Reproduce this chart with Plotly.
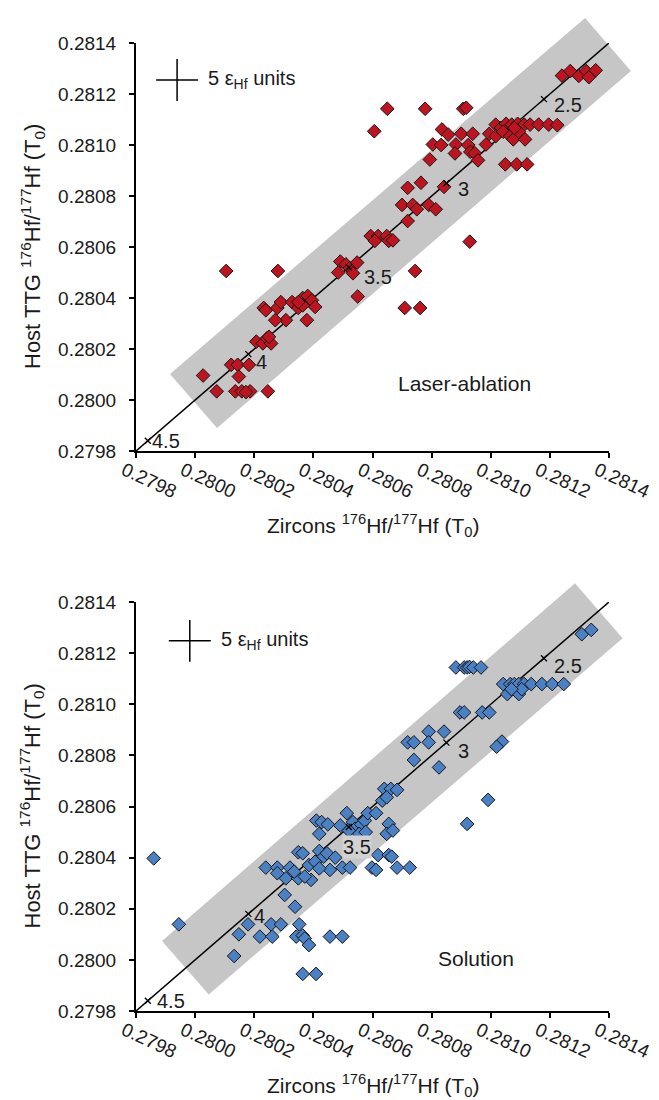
import plotly.graph_objects as go

# ---------------- data ----------------
# Laser-ablation: zircon 176Hf/177Hf (x) vs host TTG 176Hf/177Hf (y)
la_x = [0.281241, 0.281269, 0.281298, 0.281323, 0.281332, 0.281355, 0.280650, 0.280778, 0.280907, 0.280917,
        0.280606, 0.280835, 0.280856, 0.280900, 0.280939, 0.280804, 0.280832, 0.280882, 0.280879, 0.280924,
        0.280931, 0.280946, 0.280794, 0.280957, 0.280984, 0.280995, 0.281017, 0.281034, 0.281052, 0.281071,
        0.281091, 0.281113, 0.281133, 0.281162, 0.281196, 0.281225, 0.281017, 0.281042, 0.281066, 0.281076,
        0.281095, 0.281116, 0.281080, 0.281049, 0.281088, 0.281123, 0.280719, 0.280764, 0.280842, 0.280700,
        0.280736, 0.280750, 0.280790, 0.280814, 0.280719, 0.280594, 0.280619, 0.280648, 0.280608, 0.280655,
        0.280669, 0.280929, 0.280491, 0.280510, 0.280523, 0.280548, 0.280534, 0.280484, 0.280105, 0.280280,
        0.280744, 0.280550, 0.280709, 0.280761, 0.280232, 0.280239, 0.280278, 0.280290, 0.280328, 0.280307,
        0.280271, 0.280378, 0.280349, 0.280364, 0.280381, 0.280395, 0.280406, 0.280364, 0.280349, 0.280207,
        0.280229, 0.280243, 0.280257, 0.280250, 0.280122, 0.280144, 0.280182, 0.280148, 0.280027, 0.280073,
        0.280136, 0.280158, 0.280186, 0.280246, 0.280172]
la_y = [0.281272, 0.281290, 0.281271, 0.281290, 0.281266, 0.281293, 0.281142, 0.281142, 0.281142, 0.281146,
        0.281054, 0.281061, 0.281041, 0.281044, 0.281044, 0.281002, 0.281000, 0.281002, 0.280967, 0.281000,
        0.280973, 0.280968, 0.280943, 0.280940, 0.281002, 0.281044, 0.281080, 0.281067, 0.281083, 0.281080,
        0.281083, 0.281080, 0.281080, 0.281080, 0.281080, 0.281078, 0.281035, 0.281052, 0.281035, 0.281022,
        0.281052, 0.281022, 0.281067, 0.280924, 0.280924, 0.280924, 0.280832, 0.280852, 0.280836, 0.280765,
        0.280765, 0.280748, 0.280765, 0.280748, 0.280702, 0.280643, 0.280643, 0.280643, 0.280624, 0.280624,
        0.280626, 0.280621, 0.280543, 0.280532, 0.280517, 0.280539, 0.280497, 0.280500, 0.280506, 0.280506,
        0.280506, 0.280406, 0.280361, 0.280361, 0.280361, 0.280352, 0.280361, 0.280384, 0.280384, 0.280313,
        0.280313, 0.280313, 0.280361, 0.280400, 0.280408, 0.280391, 0.280365, 0.280371, 0.280384, 0.280229,
        0.280222, 0.280242, 0.280222, 0.280248, 0.280138, 0.280138, 0.280138, 0.280092, 0.280096, 0.280034,
        0.280034, 0.280034, 0.280034, 0.280034, 0.280031]

# Solution
sol_x = [0.281308, 0.281340, 0.280882, 0.280910, 0.280920, 0.280928, 0.280941, 0.280967, 0.281042, 0.281066,
         0.281080, 0.281095, 0.281113, 0.281137, 0.281173, 0.281208, 0.281247, 0.281056, 0.281095, 0.281105,
         0.281070, 0.280896, 0.280910, 0.280971, 0.280995, 0.280790, 0.280842, 0.280719, 0.280740, 0.280790,
         0.281038, 0.281020, 0.280740, 0.280825, 0.280640, 0.280662, 0.280683, 0.280633, 0.280648, 0.280991,
         0.280920, 0.280410, 0.280428, 0.280449, 0.280420, 0.280513, 0.280491, 0.280534, 0.280541, 0.280562,
         0.280574, 0.280584, 0.280612, 0.280655, 0.280648, 0.280669, 0.280555, 0.280520, 0.280577, 0.279860,
         0.279945, 0.280132, 0.280148, 0.280179, 0.280219, 0.280257, 0.280261, 0.280290, 0.280303, 0.280338,
         0.280352, 0.280342, 0.280364, 0.280371, 0.280385, 0.280456, 0.280498, 0.280364, 0.280409, 0.280239,
         0.280278, 0.280278, 0.280307, 0.280321, 0.280349, 0.280364, 0.280385, 0.280392, 0.280406, 0.280420,
         0.280435, 0.280446, 0.280456, 0.280474, 0.280498, 0.280524, 0.280349, 0.280371, 0.280335, 0.280420,
         0.280598, 0.280612, 0.280619, 0.280655, 0.280665, 0.280683, 0.280726]
sol_y = [0.281274, 0.281291, 0.281144, 0.281144, 0.281144, 0.281146, 0.281144, 0.281144, 0.281079, 0.281079,
         0.281079, 0.281079, 0.281079, 0.281079, 0.281079, 0.281079, 0.281079, 0.281040, 0.281040, 0.281059,
         0.281059, 0.280968, 0.280968, 0.280968, 0.280968, 0.280893, 0.280893, 0.280851, 0.280851, 0.280851,
         0.280854, 0.280834, 0.280782, 0.280753, 0.280669, 0.280669, 0.280665, 0.280623, 0.280636, 0.280626,
         0.280532, 0.280545, 0.280539, 0.280530, 0.280493, 0.280574, 0.280526, 0.280539, 0.280513, 0.280530,
         0.280545, 0.280574, 0.280574, 0.280532, 0.280493, 0.280506, 0.280493, 0.280506, 0.280500, 0.280397,
         0.280139, 0.280015, 0.280100, 0.280139, 0.280091, 0.280139, 0.280091, 0.280139, 0.280254, 0.280208,
         0.280139, 0.280091, 0.280095, 0.280084, 0.280058, 0.280091, 0.280091, 0.279945, 0.279945, 0.280361,
         0.280361, 0.280339, 0.280319, 0.280361, 0.280421, 0.280417, 0.280371, 0.280313, 0.280384, 0.280426,
         0.280404, 0.280417, 0.280352, 0.280400, 0.280361, 0.280361, 0.280319, 0.280326, 0.280345, 0.280358,
         0.280361, 0.280352, 0.280410, 0.280410, 0.280404, 0.280361, 0.280361]

# CHUR ages (Ga) marked along the 1:1 line, and their 176Hf/177Hf values
age_labels = ["2.5", "3", "3.5", "4", "4.5"]
age_ratio = [0.28118, 0.28085, 0.28052, 0.28018, 0.27984]

# 1:1 line end points
line_vals = [0.2798, 0.2814]

# grey envelope corners (x, y) for each panel
band_la_x = [0.281319, 0.281474, 0.280074, 0.279915]
band_la_y = [0.281498, 0.281290, 0.279890, 0.280102]
band_sol_x = [0.281285, 0.281446, 0.280046, 0.279888]
band_sol_y = [0.281473, 0.281258, 0.279865, 0.280074]

# 5 epsilon-unit cross (centre x, centre y) and arm half-lengths
cross_la = [0.279939, 0.281255]
cross_sol = [0.279982, 0.281248]
cross_half = [0.000071, 0.000082]

tick_vals = [0.2798, 0.2800, 0.2802, 0.2804, 0.2806, 0.2808, 0.2810, 0.2812, 0.2814]
tick_text = ["0.2798", "0.2800", "0.2802", "0.2804", "0.2806", "0.2808", "0.2810", "0.2812", "0.2814"]

AX_MIN, AX_MAX = 0.2798, 0.2814
FONT = "Liberation Sans"
TXT = "#1a1a1a"

fig = go.Figure()


def frac(v):
    return (v - AX_MIN) / (AX_MAX - AX_MIN)


def add_panel(xs, ys, color, bx, by, cross, xr, yr, label, label_xy, label_offsets):
    # envelope (domain refs so it may extend past the axes, as in the original)
    path = "M " + " L ".join(f"{frac(a):.5f},{frac(b):.5f}" for a, b in zip(bx, by)) + " Z"
    fig.add_shape(type="path", path=path, xref=f"{xr} domain", yref=f"{yr} domain",
                  fillcolor="#c6c6c6", line=dict(width=0), layer="below")
    # 1:1 line
    fig.add_trace(go.Scatter(x=line_vals, y=line_vals, mode="lines",
                             line=dict(color="black", width=1.5), xaxis=xr, yaxis=yr,
                             showlegend=False, hoverinfo="skip"))
    # data
    fig.add_trace(go.Scatter(x=xs, y=ys, mode="markers",
                             marker=dict(symbol="diamond", size=10.5, color=color,
                                         line=dict(color="#151515", width=1)),
                             xaxis=xr, yaxis=yr, showlegend=False))
    # age ticks on the line
    fig.add_trace(go.Scatter(x=age_ratio, y=age_ratio, mode="markers",
                             marker=dict(symbol="x-thin", size=6, line=dict(color="black", width=1.3)),
                             xaxis=xr, yaxis=yr, showlegend=False, hoverinfo="skip"))
    for lab, v, (dx, dy, bg) in zip(age_labels, age_ratio, label_offsets):
        fig.add_annotation(x=v, y=v, xref=xr, yref=yr, text=lab, showarrow=False,
                           xanchor="left", yanchor="middle", xshift=dx, yshift=dy,
                           bgcolor=bg, borderpad=0,
                           font=dict(family=FONT, size=20, color=TXT))
    # cross
    cx, cy = cross
    hx, hy = cross_half
    fig.add_shape(type="line", x0=cx - hx, x1=cx + hx, y0=cy, y1=cy, xref=xr, yref=yr,
                  line=dict(color="black", width=1.5))
    fig.add_shape(type="line", x0=cx, x1=cx, y0=cy - hy, y1=cy + hy, xref=xr, yref=yr,
                  line=dict(color="black", width=1.5))
    fig.add_annotation(x=cx + hx, y=cy, xref=xr, yref=yr, text="5 ε<sub>Hf</sub> units",
                       showarrow=False, xanchor="left", yanchor="middle", xshift=8,
                       font=dict(family=FONT, size=20, color=TXT))
    # panel label
    fig.add_annotation(x=label_xy[0], y=label_xy[1], xref=xr, yref=yr, text=label,
                       showarrow=False, xanchor="center", yanchor="middle",
                       font=dict(family=FONT, size=21, color=TXT))
    # axis titles
    fig.add_annotation(x=0.5, y=0, xref=f"{xr} domain", yref=f"{yr} domain",
                       text="Zircons <sup>176</sup>Hf/<sup>177</sup>Hf (T<sub>0</sub>)",
                       showarrow=False, xanchor="center", yanchor="middle", yshift=-74,
                       font=dict(family=FONT, size=21, color=TXT))
    fig.add_annotation(x=0, y=0.5, xref=f"{xr} domain", yref=f"{yr} domain",
                       text="Host TTG <sup>176</sup>Hf/<sup>177</sup>Hf (T<sub>0</sub>)",
                       showarrow=False, xanchor="center", yanchor="middle", xshift=-104,
                       textangle=-90, font=dict(family=FONT, size=22, color=TXT))


none = "rgba(0,0,0,0)"
add_panel(la_x, la_y, "#bd1420", band_la_x, band_la_y, cross_la, "x", "y",
          "Laser-ablation", (0.28091, 0.280063),
          [(9, -6, none), (11, -6, none), (14, -10, none), (7, -8, none), (3, 0, none)])
add_panel(sol_x, sol_y, "#4a80c4", band_sol_x, band_sol_y, cross_sol, "x2", "y2",
          "Solution", (0.280951, 0.280007),
          [(9, -8, none), (11, -8, none), (-7, -20, "#d2d2d2"), (5, -2, none), (8, 0, none)])

axis_common = dict(range=[AX_MIN, AX_MAX], showline=True, linewidth=2, linecolor="black",
                   ticks="outside", ticklen=5, tickwidth=1.5, tickcolor="black",
                   showgrid=False, zeroline=False, tickvals=tick_vals, ticktext=tick_text,
                   tickfont=dict(family=FONT, size=19, color=TXT))
x_extra = dict(tickangle=25, ticklabelshift=-12, ticklabelstandoff=-6)
y_extra = dict(ticklabelstandoff=9)

fig.update_layout(
    width=659, height=1100,
    margin=dict(l=128, r=58, t=35, b=97),
    paper_bgcolor="white", plot_bgcolor="white",
    showlegend=False,
    xaxis=dict(domain=[0, 1], anchor="y", **x_extra, **axis_common),
    yaxis=dict(domain=[0.5785, 1], anchor="x", **y_extra, **axis_common),
    xaxis2=dict(domain=[0, 1], anchor="y2", **x_extra, **axis_common),
    yaxis2=dict(domain=[0, 0.4225], anchor="x2", **y_extra, **axis_common),
)

fig.write_html("out.html")
